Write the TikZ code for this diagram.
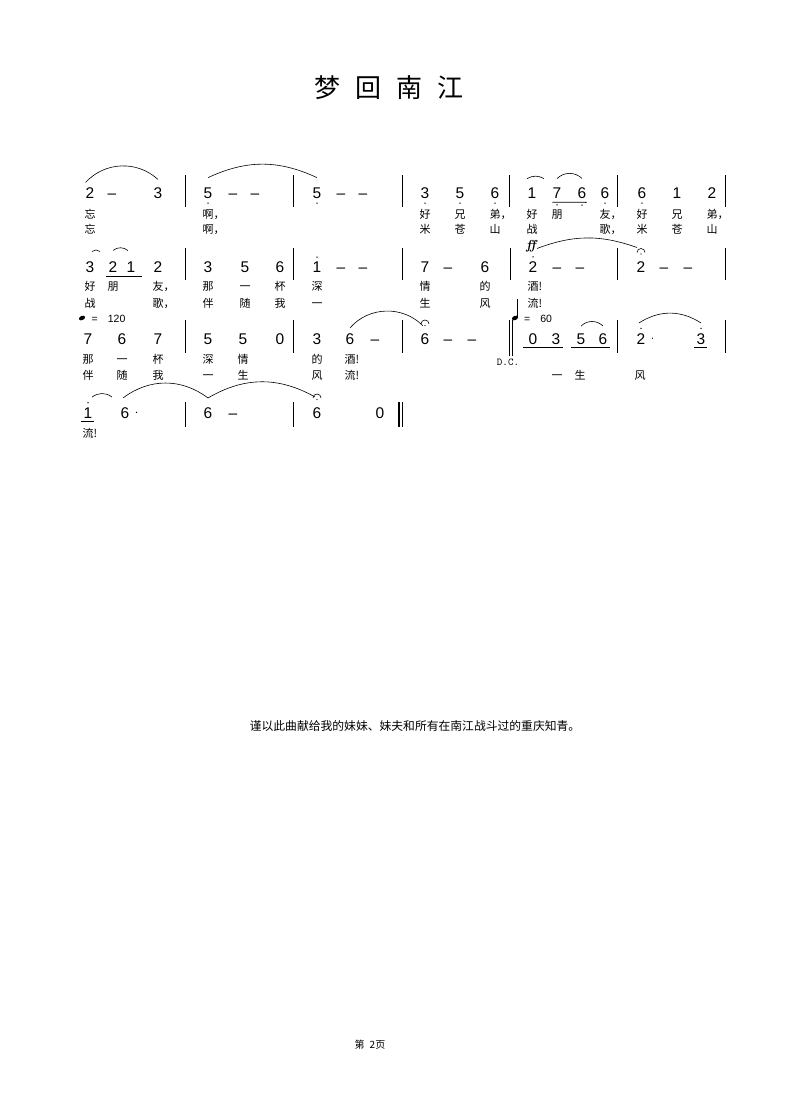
\documentclass[tikz,border=0pt]{standalone}
\usepackage{fontspec}
\newfontfamily\cjk{Noto Sans CJK SC}
\newfontfamily\numfont{Liberation Sans}
\usetikzlibrary{positioning}

\tikzset{
  num/.style={font=\numfont\fontsize{15.5}{16}\selectfont, inner sep=0pt, anchor=base},
  ly/.style={font=\cjk\fontsize{11}{12}\selectfont, inner sep=0pt, anchor=base west, xshift=-5.5pt},
  slur/.style={line width=0.6pt},
  barline/.style={line width=0.8pt},
  uline/.style={line width=0.8pt},
  tempo/.style={font=\numfont\fontsize{10.5}{11}\selectfont, inner sep=0pt, anchor=base west},
}

\begin{document}
\begin{tikzpicture}[x=1pt,y=-1pt]
\useasboundingbox (0,0) rectangle (790,1119);
\fill[white] (0,0) rectangle (790,1119);

\node[font=\cjk\fontsize{26}{26}\selectfont, anchor=base] (title) at (389,97.5) {梦\hspace{15pt}回\hspace{15pt}南\hspace{15pt}江};

% row 1
\node[num] (a1) at (90,198.5) {2};
\node[num] (a2) at (112,198.5) {–};
\node[num] (a3) at (158,198.5) {3};
\node[num] (a4) at (208,198.5) {5};
\node[num] (a5) at (233,198.5) {–};
\node[num] (a6) at (255,198.5) {–};
\node[num] (a7) at (317,198.5) {5};
\node[num] (a8) at (341,198.5) {–};
\node[num] (a9) at (363,198.5) {–};
\node[num] (a10) at (425,198.5) {3};
\node[num] (a11) at (460,198.5) {5};
\node[num] (a12) at (495,198.5) {6};
\node[num] (a13) at (532,198.5) {1};
\node[num] (a14) at (557,198.5) {7};
\node[num] (a15) at (582,198.5) {6};
\node[num] (a16) at (605,198.5) {6};
\node[num] (a17) at (642,198.5) {6};
\node[num] (a18) at (677,198.5) {1};
\node[num] (a19) at (712,198.5) {2};
\foreach \x in {185,293,402,509,617,725}
  \draw[barline] (\x,175) -- (\x,207);

\foreach \x/\t [count=\i] in {90/忘,208/啊，,425/好,460/兄,495/弟，,532/好,557/朋,605/友，,642/好,677/兄,712/弟，}
  \node[ly] (ua\i) at (\x,218) {\t};
\foreach \x/\t [count=\i] in {90/忘,208/啊，,425/米,460/苍,495/山,532/战,605/歌，,642/米,677/苍,712/山}
  \node[ly] (va\i) at (\x,233) {\t};

% row 2
\node[num] (b1) at (90,272.5) {3};
\node[num] (b2) at (113,272.5) {2};
\node[num] (b3) at (131,272.5) {1};
\node[num] (b4) at (158,272.5) {2};
\node[num] (b5) at (208,272.5) {3};
\node[num] (b6) at (245,272.5) {5};
\node[num] (b7) at (280,272.5) {6};
\node[num] (b8) at (317,272.5) {1};
\node[num] (b9) at (341,272.5) {–};
\node[num] (b10) at (363,272.5) {–};
\node[num] (b11) at (425,272.5) {7};
\node[num] (b12) at (448,272.5) {–};
\node[num] (b13) at (485,272.5) {6};
\node[num] (b14) at (533,272.5) {2};
\node[num] (b15) at (557,272.5) {–};
\node[num] (b16) at (580,272.5) {–};
\node[num] (b17) at (641,272.5) {2};
\node[num] (b18) at (664,272.5) {–};
\node[num] (b19) at (688,272.5) {–};
\foreach \x in {185,293,402,510,617,725}
  \draw[barline] (\x,248) -- (\x,280);

\foreach \x/\t [count=\i] in {90/好,113/朋,158/友，,208/那,245/一,280/杯,317/深,425/情,485/的,533/酒!}
  \node[ly] (ub\i) at (\x,290.5) {\t};
\foreach \x/\t [count=\i] in {90/战,158/歌，,208/伴,245/随,280/我,317/一,425/生,485/风,533/流!}
  \node[ly] (vb\i) at (\x,307) {\t};

\node[font=\bfseries\itshape\fontsize{13}{13}\selectfont, inner sep=0pt] (ff) at (531,246) {ff};

% row 3
\node[num] (c1) at (88,344) {7};
\node[num] (c2) at (122,344) {6};
\node[num] (c3) at (158,344) {7};
\node[num] (c4) at (208,344) {5};
\node[num] (c5) at (243,344) {5};
\node[num] (c6) at (280,344) {0};
\node[num] (c7) at (317,344) {3};
\node[num] (c8) at (350,344) {6};
\node[num] (c9) at (375,344) {–};
\node[num] (c10) at (425,344) {6};
\node[num] (c11) at (448,344) {–};
\node[num] (c12) at (472,344) {–};
\node[num] (c13) at (533,344) {0};
\node[num] (c14) at (556,344) {3};
\node[num] (c15) at (581,344) {5};
\node[num] (c16) at (603,344) {6};
\node[num] (c17) at (641,344) {2};
\node[num] (c18) at (701,344) {3};
\foreach \x in {185,293,402,617,725}
  \draw[barline] (\x,320) -- (\x,353);
\draw[line width=1pt] (509.5,320) -- (509.5,356);
\draw[line width=1.4pt] (512.5,320) -- (512.5,356);

\foreach \x/\t [count=\i] in {88/那,122/一,158/杯,208/深,243/情,317/的,350/酒!}
  \node[ly] (uc\i) at (\x,363.5) {\t};
\foreach \x/\t [count=\i] in {88/伴,122/随,158/我,208/一,243/生,317/风,350/流!,557/一,580/生,640/风}
  \node[ly] (vc\i) at (\x,379) {\t};

\node[font=\ttfamily\fontsize{10.5}{11}\selectfont, anchor=base] (dc) at (508,365) {D.C.};

% tempo
\fill (82,318) circle [x radius=3.2pt, y radius=2.1pt, rotate=25];
\node[tempo] (t1) at (91.5,322) {=\hspace{10pt}120};
\fill (515,318) circle [x radius=3.2pt, y radius=2.1pt, rotate=25];
\draw[line width=0.7pt] (517.8,317.5) -- (517.8,299);
\node[tempo] (t2) at (524,322) {=\hspace{10pt}60};

% row 4
\node[num] (d1) at (88,418) {1};
\node[num] (d2) at (125,418) {6};
\node[num] (d3) at (208,418) {6};
\node[num] (d4) at (233,418) {–};
\node[num] (d5) at (317,418) {6};
\node[num] (d6) at (380,418) {0};
\foreach \x in {185,293}
  \draw[barline] (\x,402) -- (\x,427);
\draw[line width=1.2pt] (399,402) -- (399,427);
\draw[line width=1.2pt] (402.5,402) -- (402.5,427);
\node[ly] (ud1) at (88,437) {流!};

% octave dots
\foreach \n in {a4,a7,a10,a11,a12,a16,a17}
  \fill ([yshift=-4.2pt]\n.south) circle (0.75pt);
\foreach \n in {a14,a15}
  \fill ([yshift=-6.2pt]\n.south) circle (0.75pt);
\foreach \n in {b8,b14,c17,c18,d1}
  \fill ([yshift=4.5pt]\n.north) circle (0.75pt);
% augmentation dots
\foreach \n in {c17,d2}
  \fill ([xshift=7pt,yshift=6pt]\n.south east) circle (0.7pt);
% fermatas
\foreach \n in {b17,c10,d5} {
  \draw[slur] ([xshift=-4pt,yshift=9pt]\n.north) arc (180:0:4pt);
  \fill ([yshift=7.5pt]\n.north) circle (0.7pt);
}

% underlines
\draw[uline] ([yshift=-3.5pt]a14.south west) -- ([yshift=-3.5pt]a15.south east);
\draw[uline] ([xshift=-2pt,yshift=-3.5pt]b2.south west) -- ([xshift=6pt,yshift=-3.5pt]b3.south east);
\draw[uline] ([xshift=-5pt,yshift=-3.5pt]c13.south west) -- ([xshift=2pt,yshift=-3.5pt]c14.south east);
\draw[uline] ([xshift=-5pt,yshift=-3.5pt]c15.south west) -- ([xshift=2pt,yshift=-3.5pt]c16.south east);
\draw[uline] ([xshift=-2pt,yshift=-3.5pt]c18.south west) -- ([xshift=1pt,yshift=-3.5pt]c18.south east);
\draw[uline] ([xshift=-2pt,yshift=-3.5pt]d1.south west) -- ([xshift=1pt,yshift=-3.5pt]d1.south east);

% slurs
\draw[slur] ([yshift=5pt]a1.north west) to[bend left=45] ([yshift=8pt]a3.north);
\draw[slur] ([yshift=10pt]a4.north) to[bend left=25] ([yshift=10pt]a7.north);
\draw[slur] ([xshift=-5pt,yshift=9pt]a13.north) to[bend left=30] ([xshift=12pt,yshift=9pt]a13.north);
\draw[slur] ([yshift=9pt]a14.north) to[bend left=45] ([yshift=9pt]a15.north);
\draw[slur] ([xshift=2pt,yshift=10pt]b1.north) to[bend left=40] ([xshift=10pt,yshift=10pt]b1.north);
\draw[slur] ([yshift=11pt]b2.north) to[bend left=40] ([xshift=-3pt,yshift=11pt]b3.north);
\draw[slur] ([xshift=4pt,yshift=13pt]b14.north) to[bend left=20] ([xshift=-4pt,yshift=14pt]b17.north);
\draw[slur] ([yshift=5pt]c8.north) to[bend left=48] ([xshift=-2pt,yshift=7pt]c10.north);
\draw[slur] ([yshift=7pt]c15.north) to[bend left=45] ([yshift=7pt]c16.north);
\draw[slur] ([xshift=-2pt,yshift=10pt]c17.north) to[bend left=33] ([yshift=10pt]c18.north);
\draw[slur] ([xshift=4pt,yshift=10pt]d1.north) to[bend left=37] ([xshift=-13pt,yshift=10pt]d2.north);
\draw[slur] ([xshift=-2pt,yshift=9pt]d2.north) to[bend left=37] ([yshift=9pt]d3.north);
\draw[slur] ([yshift=9pt]d3.north) to[bend left=30] ([xshift=-2pt,yshift=10pt]d5.north);

% footer
\node[font=\cjk\fontsize{11.8}{12}\selectfont, anchor=base] (note) at (415,730.5) {谨以此曲献给我的妹妹、妹夫和所有在南江战斗过的重庆知青。};
\node[font=\cjk\fontsize{10}{10}\selectfont, anchor=base] (page) at (370,1048) {第\hspace{5pt}2页};
\end{tikzpicture}
\end{document}
